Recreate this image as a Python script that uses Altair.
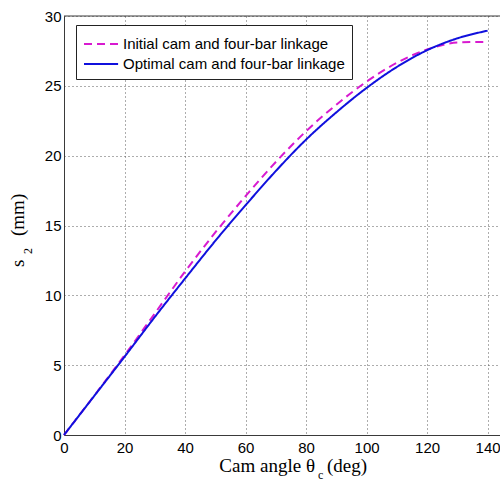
import altair as alt
import pandas as pd

cam_angle = [0, 10, 20, 30, 40, 50, 60, 70, 80, 90, 100, 110, 120, 130, 140]
initial_s2 = [0, 2.82, 5.7, 8.7, 11.7, 14.5, 17.1, 19.55, 21.75, 23.65, 25.3, 26.65, 27.6, 28.1, 28.15]
optimal_s2 = [0, 2.8, 5.6, 8.45, 11.2, 13.9, 16.45, 18.9, 21.15, 23.1, 24.85, 26.35, 27.55, 28.4, 28.95]
series_names = ["Initial cam and four-bar linkage", "Optimal cam and four-bar linkage"]
x_ticks = [0, 20, 40, 60, 80, 100, 120, 140]
y_ticks = [0, 5, 10, 15, 20, 25, 30]

rows = []
for name, vals in zip(series_names, [initial_s2, optimal_s2]):
    for a, v in zip(cam_angle, vals):
        rows.append({"angle": a, "s2": v, "series": name})
df = pd.DataFrame(rows)

W, H = 436, 419
SANS = "Liberation Sans"
SERIF = "Liberation Serif"
FRAME = "#3a3a3a"
GRID = "#5a5a5a"

xscale = alt.Scale(domain=[0, 144.1], nice=False, zero=False)
yscale = alt.Scale(domain=[0, 30], nice=False)

lines = alt.Chart(df).mark_line(strokeWidth=2, interpolate="monotone").encode(
    x=alt.X("angle:Q", scale=xscale,
            axis=alt.Axis(values=x_ticks, title=None, grid=True, tickSize=0,
                          labelPadding=5, labelFont=SANS, labelFontSize=15,
                          labelColor="black", domainColor=FRAME,
                          gridDash=[1, 3], gridColor=GRID, gridWidth=1,
                          labelFlush=False)),
    y=alt.Y("s2:Q", scale=yscale,
            axis=alt.Axis(values=y_ticks, title=None, grid=True, tickSize=0,
                          labelPadding=3, labelFont=SANS, labelFontSize=15,
                          labelColor="black", domainColor=FRAME,
                          gridDash=[1, 3], gridColor=GRID, gridWidth=1,
                          labelFlush=False)),
    color=alt.Color("series:N",
                    scale=alt.Scale(domain=series_names, range=["#d81ad0", "#1010dd"]),
                    title=None),
    strokeDash=alt.StrokeDash("series:N",
                              scale=alt.Scale(domain=series_names, range=[[8, 5], [1, 0]]),
                              title=None),
    order=alt.Order("angle:Q"),
)

top_frame = alt.Chart(pd.DataFrame({"y": [30]})).mark_rule(color=FRAME, strokeWidth=1).encode(
    y=alt.Y("y:Q", scale=yscale)
)

def txt(text, x, y, size, angle=0, align="left", font=SERIF):
    return alt.Chart(pd.DataFrame({"t": [text]})).mark_text(
        font=font, fontSize=size, align=align, baseline="alphabetic",
        angle=angle, color="black"
    ).encode(text="t:N", x=alt.value(x), y=alt.value(y))

xt1 = txt("Cam angle θ", 251, 456, 19, align="right")
xt2 = txt("c", 254, 463, 12)
xt3 = txt("(deg)", 263, 456, 19)

yt1 = txt("s", -40, 251, 19, angle=270)
yt2 = txt("2", -32, 238, 12, angle=270)
yt3 = txt("(mm)", -40, 220, 19, angle=270)

chart = alt.layer(top_frame, lines, xt1, xt2, xt3, yt1, yt2, yt3).properties(
    width=W, height=H,
    autosize=alt.AutoSizeParams(type="none"),
    padding={"left": 64, "top": 16, "right": 0, "bottom": 47},
).configure_view(stroke=None).configure_legend(
    orient="none", legendX=12, legendY=9,
    symbolType="M-1,0H2.1", symbolSize=484, symbolStrokeWidth=2,
    symbolFillColor="transparent",
    labelFont=SANS, labelFontSize=15, labelColor="black", labelOffset=16,
    strokeColor="#222222", fillColor="white", padding=7, rowPadding=0,
    labelLimit=400,
)

chart.save("out.html", embed_options={"renderer": "svg", "actions": False})
